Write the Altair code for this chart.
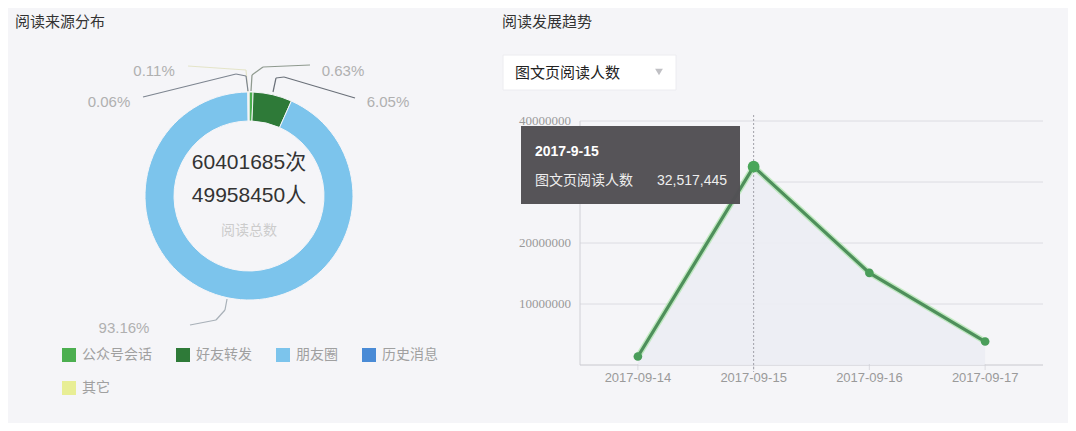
import altair as alt
import pandas as pd

# ---------------- data ----------------
source_cats = ["公众号会话", "好友转发", "朋友圈", "历史消息", "其它"]
source_pcts = [0.63, 6.05, 93.16, 0.06, 0.11]
source_colors = ["#4caf50", "#2e7a38", "#7cc4ec", "#4a8bd6", "#e8ee95"]

total_reads = "60401685次"
total_people = "49958450人"
total_caption = "阅读总数"

trend_dates = ["2017-09-14", "2017-09-15", "2017-09-16", "2017-09-17"]
trend_values = [1400000, 32517445, 15100000, 3850000]
trend_metric = "图文页阅读人数"
tooltip_date_label = "2017-9-15"
highlight_date = "2017-09-15"

y_ticks = [10000000, 20000000, 30000000, 40000000]
# the 30000000 label is hidden behind the tooltip in the original
y_tick_labels_shown = [10000000, 20000000, 40000000]

title_left = "阅读来源分布"
title_right = "阅读发展趋势"

BG = "#f5f5f8"
CJK = "Noto Sans CJK SC"
SANS = "Liberation Sans, Noto Sans CJK SC"

donut_df = pd.DataFrame({"cat": source_cats, "pct": source_pcts,
                         "idx": list(range(len(source_cats)))})
trend_df = pd.DataFrame({"date": trend_dates, "value": trend_values})
tick_df = pd.DataFrame({"tick": y_ticks})
tick_lbl_df = pd.DataFrame({"tick": y_tick_labels_shown,
                            "label": [str(t) for t in y_tick_labels_shown]})
one = pd.DataFrame({"a": [0]})

# page coords -> local (page margin 8)
def L(v):
    return v - 8

x_scale = alt.Scale(type="point", domain=trend_dates, range=[L(580), L(1043)], padding=0.5)
y_scale = alt.Scale(domain=[0, 40000000], range=[L(365), L(121)], nice=False, zero=True)

layers = []

# ---------------- left panel ----------------
def txt(s, x, y, size, color, align="center", font=CJK, weight="normal"):
    return alt.Chart(one).mark_text(text=s, align=align, baseline="middle", fontSize=size,
                                    color=color, font=font, fontWeight=weight).encode(
        x=alt.value(L(x)), y=alt.value(L(y)))

def seg(x1, y1, x2, y2, color, w=1.2, dash=None):
    kw = dict(color=color, strokeWidth=w)
    if dash:
        kw["strokeDash"] = dash
    return alt.Chart(one).mark_rule(**kw).encode(
        x=alt.value(L(x1)), y=alt.value(L(y1)), x2=alt.value(L(x2)), y2=alt.value(L(y2)))

layers.append(txt(title_left, 15, 22, 15, "#333333", align="left"))

donut = alt.Chart(donut_df).mark_arc(innerRadius=75, outerRadius=104, stroke=BG, strokeWidth=1).encode(
    theta=alt.Theta("pct:Q", stack=True),
    color=alt.Color("cat:N", scale=alt.Scale(domain=source_cats, range=source_colors),
                    sort=source_cats,
                    legend=alt.Legend(title=None, orient="none", legendX=L(62), legendY=L(348),
                                      direction="horizontal", columns=4, columnPadding=24,
                                      rowPadding=19, symbolType="square", symbolSize=196,
                                      symbolStrokeWidth=0, labelFont=CJK, labelFontSize=14,
                                      labelColor="#a0a0a0", labelOffset=6, padding=0)),
    order=alt.Order("idx:Q"),
    x=alt.value(L(249)), y=alt.value(L(196)),
)
layers.append(donut)

layers.append(txt(total_reads, 249, 163, 21, "#333333", font=SANS))
layers.append(txt(total_people, 249, 196, 21, "#333333", font=SANS))
layers.append(txt(total_caption, 249, 231, 14, "#cccccc"))

# leader lines
layers += [
    seg(248, 92, 246, 70, "#e4e4c8"), seg(246, 70, 188, 66, "#e4e4c8"),
    seg(248, 91, 246, 76, "#7d8590"), seg(246, 76, 236, 74, "#7d8590"), seg(236, 74, 143, 97, "#7d8590"),
    seg(251, 91, 252, 75, "#8f9a8f"), seg(252, 75, 263, 67, "#8f9a8f"), seg(263, 67, 310, 65, "#8f9a8f"),
    seg(273, 92, 276, 78, "#6a7079"), seg(276, 78, 284, 77, "#6a7079"), seg(284, 77, 355, 98, "#6a7079"),
    seg(227, 299, 225, 310, "#a8b0b8"), seg(225, 310, 216, 320, "#a8b0b8"), seg(216, 320, 190, 325, "#a8b0b8"),
]
pct_lbl = [f"{p:.2f}%" for p in source_pcts]
layers += [
    txt(pct_lbl[4], 154, 71, 15, "#b0b0b0", font=SANS),
    txt(pct_lbl[0], 343, 71, 15, "#b0b0b0", font=SANS),
    txt(pct_lbl[3], 109, 102, 15, "#b0b0b0", font=SANS),
    txt(pct_lbl[1], 388, 102, 15, "#b0b0b0", font=SANS),
    txt(pct_lbl[2], 124, 328, 15, "#b0b0b0", font=SANS),
]

# ---------------- right panel ----------------
layers.append(txt(title_right, 502, 22, 15, "#333333", align="left"))

# dropdown
layers.append(alt.Chart(one).mark_rect(fill="#ffffff", stroke="#ececf0", strokeWidth=1).encode(
    x=alt.value(L(503)), x2=alt.value(L(676)), y=alt.value(L(55)), y2=alt.value(L(90))))
layers.append(txt(trend_metric, 515, 73, 15, "#222222", align="left"))
layers.append(alt.Chart(one).mark_point(shape="triangle-down", filled=True, color="#c0c0c4",
                                        size=60, opacity=1).encode(
    x=alt.value(L(659)), y=alt.value(L(72))))

# gridlines & y labels
layers.append(alt.Chart(tick_df).mark_rule(color="#dcdce2", strokeWidth=1).encode(
    y=alt.Y("tick:Q", scale=y_scale, axis=None),
    x=alt.value(L(580)), x2=alt.value(L(1043))))
layers.append(alt.Chart(tick_lbl_df).mark_text(align="right", baseline="middle", fontSize=13,
                                               font="Liberation Serif", color="#999999").encode(
    y=alt.Y("tick:Q", scale=y_scale, axis=None), x=alt.value(L(571)), text="label:N"))

# axis lines
layers.append(seg(580, 121, 580, 365, "#d0d0d6", 1))
layers.append(seg(580, 365, 1043, 365, "#c8c8ce", 1))

# area, line, points
enc_x = alt.X("date:O", scale=x_scale, axis=None)
enc_y = alt.Y("value:Q", scale=y_scale, axis=None)
layers.append(alt.Chart(trend_df).mark_area(color="#ecedf3", opacity=0.9).encode(x=enc_x, y=enc_y))

# x labels
layers.append(alt.Chart(trend_df).mark_text(baseline="middle", fontSize=13, font=SANS,
                                            color="#9a9a9a").encode(
    x=enc_x, y=alt.value(L(378)), text="date:N"))
# tick marks
layers.append(alt.Chart(trend_df).mark_tick(color="#d0d0d6", size=6, thickness=1, orient="vertical").encode(
    x=enc_x, y=alt.value(L(367))))

hl = trend_df[trend_df["date"] == highlight_date]
layers.append(alt.Chart(hl).mark_rule(color="#a0a0a8", strokeWidth=1, strokeDash=[2, 2]).encode(
    x=enc_x, y=alt.value(L(115)), y2=alt.value(L(372))))

layers.append(alt.Chart(trend_df).mark_line(color="#8ee08a", strokeWidth=6, opacity=0.5).encode(x=enc_x, y=enc_y))
layers.append(alt.Chart(trend_df).mark_line(color="#4e8f5b", strokeWidth=3.2).encode(x=enc_x, y=enc_y))
layers.append(alt.Chart(trend_df).mark_circle(color="#4a9d5a", size=75, opacity=1).encode(x=enc_x, y=enc_y))
layers.append(alt.Chart(hl).mark_circle(color="#4aa65a", size=140, opacity=1).encode(x=enc_x, y=enc_y))

# tooltip
layers.append(alt.Chart(one).mark_rect(fill="#535155", opacity=0.98).encode(
    x=alt.value(L(521)), x2=alt.value(L(740)), y=alt.value(L(126)), y2=alt.value(L(204))))
layers.append(txt(tooltip_date_label, 535, 152, 14, "#ffffff", align="left", font=SANS, weight="bold"))
layers.append(txt(trend_metric, 535, 181, 14, "#eeeeee", align="left"))
layers.append(alt.Chart(hl).mark_text(align="left", baseline="middle", fontSize=14, font=SANS,
                                      color="#eeeeee").encode(
    x=alt.value(L(657)), y=alt.value(L(181)), text=alt.Text("value:Q", format=",")))

chart = alt.layer(*layers).properties(
    width=1060, height=415,
    autosize=alt.AutoSizeParams(type="none"),
    padding=0,
    background=BG,
).configure_view(stroke=None)

chart.save("out.html", embed_options={"renderer": "svg", "actions": False})
